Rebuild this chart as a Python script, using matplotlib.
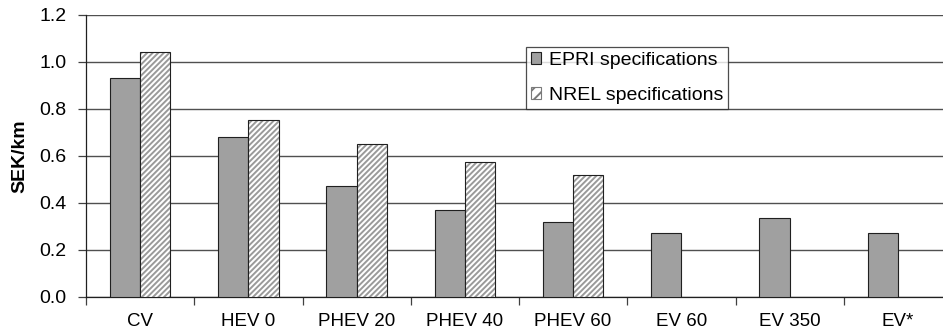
import numpy as np
import matplotlib.pyplot as plt
from matplotlib.ticker import FixedLocator, FormatStrFormatter

categories = ["CV", "HEV 0", "PHEV 20", "PHEV 40", "PHEV 60", "EV 60", "EV 350", "EV*"]
epri = [0.93, 0.68, 0.47, 0.37, 0.32, 0.27, 0.335, 0.27]
nrel = [1.04, 0.75, 0.65, 0.575, 0.52, None, None, None]

plt.rcParams['font.family'] = ['Liberation Sans', 'DejaVu Sans']
plt.rcParams['hatch.linewidth'] = 1.4

W, H = 943, 335
fig = plt.figure(figsize=(W / 100, H / 100), dpi=100)
# axes runs past the right edge of the picture, like the original
ax = fig.add_axes([86 / W, (H - 296.7) / H, (952 - 86) / W, (296.7 - 14.7) / H])

x = np.arange(len(categories)) + 0.5
bw = 0.28

ax.bar(x - bw / 2, epri, bw, color='#a0a0a0', edgecolor='#202020', linewidth=0.8,
       label='EPRI specifications', zorder=3)
nx = [xi + bw / 2 for xi, v in zip(x, nrel) if v is not None]
nv = [v for v in nrel if v is not None]
# hatch in grey, then outline in dark
ax.bar(nx, nv, bw, color='white', edgecolor='#9a9a9a', linewidth=0, hatch='//////', zorder=3)
ax.bar(nx, nv, bw, color='none', edgecolor='#202020', linewidth=0.8, zorder=4)
# legend proxy for the hatched series
nrel_proxy = plt.Rectangle((0, 0), 1, 1, facecolor='white', edgecolor='#7a7a7a',
                           hatch='///', linewidth=0.8)

ax.set_xlim(0, len(categories))
ax.set_ylim(0, 1.2)
ax.set_yticks(np.arange(0, 1.21, 0.2))
ax.yaxis.set_major_formatter(FormatStrFormatter('%.1f'))
ax.yaxis.grid(True, color='#505050', linewidth=1.0, zorder=0)
ax.set_axisbelow(True)

ax.xaxis.set_major_locator(FixedLocator(x))
ax.set_xticklabels(categories)
ax.xaxis.set_minor_locator(FixedLocator(np.arange(0, len(categories) + 1)))
ax.tick_params(axis='x', which='major', length=0, pad=12, labelsize=13.5)
ax.tick_params(axis='x', which='minor', length=6, width=0.9, color='#404040')
ax.tick_params(axis='y', length=6, width=0.9, pad=8, labelsize=14, color='#404040')

for s in ['top', 'right']:
    ax.spines[s].set_visible(False)
for s in ['left', 'bottom']:
    ax.spines[s].set_linewidth(0.9)
    ax.spines[s].set_color('#202020')

ax.set_ylabel('SEK/km', fontsize=14, fontweight='bold', labelpad=8)

handles, labels = ax.get_legend_handles_labels()
leg = ax.legend([handles[0], nrel_proxy], ['EPRI specifications', 'NREL specifications'],
                loc='upper left', bbox_to_anchor=(525.7 / W, (H - 47.3) / H),
                bbox_transform=fig.transFigure, fontsize=14, frameon=True, fancybox=False,
                handlelength=0.55, handleheight=0.55, handletextpad=0.4,
                borderpad=0.25, labelspacing=0.9, borderaxespad=0)
leg.get_frame().set_edgecolor('#202020')
leg.get_frame().set_linewidth(0.9)
leg.set_zorder(5)

fig.savefig('out.png', dpi=100)
